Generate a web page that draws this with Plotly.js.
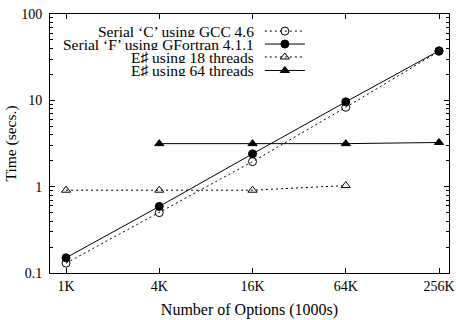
<!DOCTYPE html>
<html>
<head>
<meta charset="utf-8">
<script src="https://cdn.plot.ly/plotly-3.0.1.min.js"></script>
<style>html,body{margin:0;padding:0;background:#fff;}#chart{width:456px;height:320px;}</style>
</head>
<body>
<div id="chart"></div>
<script>
var categories = ['1K', '4K', '16K', '64K', '256K'];
var serialC = [0.13, 0.5, 1.95, 8.3, 37];
var serialF = [0.15, 0.59, 2.4, 9.6, 37.5];
var esharp18 = [0.91, 0.91, 0.91, 1.03, null];
var esharp64 = [null, 3.15, 3.15, 3.15, 3.25];
var seriesNames = ["Serial \u2018C\u2019 using GCC 4.6", "Serial \u2018F\u2019 using GFortran 4.1.1", "E\u266F using 18 threads", "E\u266F using 64 threads"];
var yTickVals = [0.1, 1, 10, 100];
var yTickText = ['0.1', '1', '10', '100'];

var FONT = 'Liberation Serif';
var dotted = '2px,3px';

function tr(y, symbol, dash, leg) {
  return {
    x: categories, y: y, type: 'scatter', mode: 'lines+markers', name: ' ',
    legend: leg, connectgaps: false,
    line: {color: '#000', width: 1, dash: dash},
    marker: {symbol: symbol, size: 8, color: '#000', line: {color: '#000', width: 1}}
  };
}
var data = [
  tr(serialC, 'circle-open', dotted, 'legend'),
  tr(serialF, 'circle', 'solid', 'legend2'),
  tr(esharp18, 'triangle-up-open', dotted, 'legend3'),
  tr(esharp64, 'triangle-up', 'solid', 'legend4')
];

var legY = [0.934, 0.884, 0.834, 0.782];
function leg(y) {
  return {x: 0.526, y: y, xanchor: 'left', yanchor: 'middle', bgcolor: 'rgba(0,0,0,0)',
          borderwidth: 0, font: {family: FONT, size: 8, color: '#000'}, itemwidth: 40};
}
var annotations = seriesNames.map(function (n, i) {
  return {text: n, xref: 'paper', yref: 'paper', x: 0.514, y: legY[i], xanchor: 'right', yanchor: 'middle',
          height: 12, borderpad: 0, valign: 'middle',
          showarrow: false, font: {family: FONT, size: 15.5, color: '#000'}};
});

var layout = {
  width: 456, height: 320,
  margin: {l: 50, r: 7, t: 14, b: 47},
  paper_bgcolor: '#fff', plot_bgcolor: '#fff',
  font: {family: FONT, size: 14, color: '#000'},
  showlegend: true,
  legend: leg(legY[0]), legend2: leg(legY[1]), legend3: leg(legY[2]), legend4: leg(legY[3]),
  annotations: annotations,
  xaxis: {
    type: 'category', range: [-0.172, 4.107], categoryorder: 'array', categoryarray: categories,
    showline: true, linecolor: '#000', linewidth: 1, mirror: 'allticks',
    ticks: 'inside', ticklen: 5, tickcolor: '#000', showgrid: false, zeroline: false,
    tickfont: {family: FONT, size: 14, color: '#000'},
    title: {text: 'Number of Options (1000s)', font: {family: FONT, size: 16, color: '#000'}, standoff: 11}
  },
  yaxis: {
    type: 'log', range: [-1, 2], tickvals: yTickVals, ticktext: yTickText,
    showline: true, linecolor: '#000', linewidth: 1, mirror: 'allticks',
    ticks: 'inside', ticklen: 5, tickcolor: '#000', showgrid: false, zeroline: false,
    minor: {ticks: 'inside', ticklen: 3, tickcolor: '#000', dtick: 'D1', showgrid: false},
    tickfont: {family: FONT, size: 14, color: '#000'},
    ticklabelstandoff: 4,
    title: {text: 'Time (secs.)', font: {family: FONT, size: 15.5, color: '#000'}, standoff: 0}
  }
};
Plotly.newPlot('chart', data, layout, {staticPlot: true, displayModeBar: false});
</script>
</body>
</html>
